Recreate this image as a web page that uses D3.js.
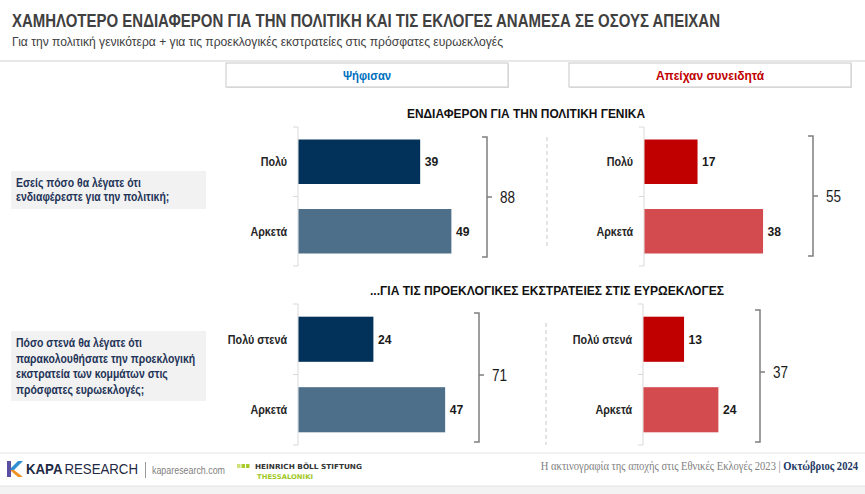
<!DOCTYPE html>
<html><head><meta charset="utf-8">
<script src="https://cdn.jsdelivr.net/npm/d3@7/dist/d3.min.js"></script>
<style>body{margin:0;background:#fff;}svg{display:block;}</style>
</head><body>
<svg id="chart" width="865" height="494"></svg>
<script>
// ---------- DATA ----------
const titleText = "ΧΑΜΗΛΟΤΕΡΟ ΕΝΔΙΑΦΕΡΟΝ ΓΙΑ ΤΗΝ ΠΟΛΙΤΙΚΗ ΚΑΙ ΤΙΣ ΕΚΛΟΓΕΣ ΑΝΑΜΕΣΑ ΣΕ ΟΣΟΥΣ ΑΠΕΙΧΑΝ";
const subtitleText = "Για την πολιτική γενικότερα + για τις προεκλογικές εκστρατείες στις πρόσφατες ευρωεκλογές";
const groupLabels = ["Ψήφισαν", "Απείχαν συνειδητά"];
const sectionTitles = ["ΕΝΔΙΑΦΕΡΟΝ ΓΙΑ ΤΗΝ ΠΟΛΙΤΙΚΗ ΓΕΝΙΚΑ", "...ΓΙΑ ΤΙΣ ΠΡΟΕΚΛΟΓΙΚΕΣ ΕΚΣΤΡΑΤΕΙΕΣ ΣΤΙΣ ΕΥΡΩΕΚΛΟΓΕΣ"];
const question1 = ["Εσείς πόσο θα λέγατε ότι", "ενδιαφέρεστε για την πολιτική;"];
const question2 = ["Πόσο στενά θα λέγατε ότι", "παρακολουθήσατε την προεκλογική", "εκστρατεία των κομμάτων στις", "πρόσφατες ευρωεκλογές;"];
const categories1 = ["Πολύ", "Αρκετά"];
const voted1 = [39, 49];
const abstained1 = [17, 38];
const categories2 = ["Πολύ στενά", "Αρκετά"];
const voted2 = [24, 47];
const abstained2 = [13, 24];
const footerSource = "Η ακτινογραφία της αποχής στις Εθνικές Εκλογές 2023";
const footerDate = "Οκτώβριος 2024";

// ---------- STYLE ----------
const SANS = "'Liberation Sans',Arial,sans-serif";
const SERIF = "'Liberation Serif','DejaVu Serif',serif";
const votedColors = ["#023159", "#4d6f8a"];
const abstColors = ["#c00000", "#d34b4f"];

const svg = d3.select("#chart");

// condensed text helper (horizontal squeeze to mimic a narrow face)
function ntext(parent, x, y, sx) {
  return parent.append("text").attr("transform", `translate(${x},${y}) scale(${sx},1)`)
    .attr("font-family", SANS);
}

// title
svg.append("text").attr("x", 12).attr("y", 27)
  .attr("font-family", SANS).attr("font-weight", "bold").attr("font-size", 18)
  .attr("fill", "#404040").attr("textLength", 708).attr("lengthAdjust", "spacingAndGlyphs")
  .text(titleText);
svg.append("text").attr("x", 12).attr("y", 46)
  .attr("font-family", SANS).attr("font-size", 13)
  .attr("fill", "#404040").attr("textLength", 491).attr("lengthAdjust", "spacingAndGlyphs")
  .text(subtitleText);
svg.append("line").attr("x1", 0).attr("x2", 865).attr("y1", 61).attr("y2", 61)
  .attr("stroke", "#e8e8e8").attr("stroke-width", 2);

// header boxes
const headers = [{x: 226, w: 282, c: "#0070c0", sx: 0.87}, {x: 569, w: 282, c: "#c00000", sx: 0.92}];
headers.forEach((h, i) => {
  svg.append("rect").attr("x", h.x + 1).attr("y", 64).attr("width", h.w).attr("height", 24).attr("fill", "#e4e4e4");
  svg.append("rect").attr("x", h.x).attr("y", 63).attr("width", h.w).attr("height", 24)
    .attr("fill", "#fff").attr("stroke", "#c8c8c8").attr("stroke-width", 1);
  ntext(svg, h.x + h.w / 2, 80, h.sx).attr("text-anchor", "middle")
    .attr("font-weight", "bold").attr("font-size", 13)
    .attr("fill", h.c).text(groupLabels[i]);
});

// section titles
[{x: 526, y: 118, len: 238}, {x: 547, y: 295, len: 354}].forEach((s, i) => {
  svg.append("text").attr("x", s.x).attr("y", s.y).attr("text-anchor", "middle")
    .attr("font-family", SANS).attr("font-weight", "bold").attr("font-size", 13.5)
    .attr("fill", "#111").attr("textLength", s.len).attr("lengthAdjust", "spacingAndGlyphs")
    .text(sectionTitles[i]);
});

// question boxes
function questionBox(lines, y, h, baselines) {
  svg.append("rect").attr("x", 11).attr("y", y).attr("width", 195).attr("height", h).attr("fill", "#f2f2f2");
  lines.forEach((l, i) => {
    ntext(svg, 16, baselines[i], 0.87)
      .attr("font-weight", "bold").attr("font-size", 12)
      .attr("fill", "#1f3458").text(l);
  });
}
questionBox(question1, 171, 38, [186.5, 201]);
questionBox(question2, 331, 70, [347, 362.5, 378, 393.5]);

// bar scale
const x = d3.scaleLinear().domain([0, 100]).range([0, 312]);

function panel(cfg) {
  const g = svg.append("g");
  const y = d3.scaleBand().domain(cfg.cats).range([cfg.top, cfg.bottom])
    .paddingInner(0.36).paddingOuter(0.18);
  const axisY = [cfg.top, cfg.top + (cfg.bottom - cfg.top) / 2, cfg.bottom];
  g.append("line").attr("x1", cfg.ax).attr("x2", cfg.ax).attr("y1", cfg.top).attr("y2", cfg.bottom)
    .attr("stroke", "#d9d9d9").attr("stroke-width", 1);
  axisY.forEach(v => g.append("line").attr("x1", cfg.ax - 5).attr("x2", cfg.ax).attr("y1", v).attr("y2", v)
    .attr("stroke", "#d9d9d9").attr("stroke-width", 1));
  if (cfg.dash) {
    g.append("line").attr("x1", cfg.dash.x).attr("x2", cfg.dash.x).attr("y1", cfg.dash.y1).attr("y2", cfg.dash.y2)
      .attr("stroke", "#c8c8c8").attr("stroke-dasharray", "4,3").attr("stroke-width", 1);
  }
  const data = cfg.cats.map((c, i) => ({c, v: cfg.vals[i], col: cfg.colors[i]}));
  g.selectAll("rect.bar").data(data).join("rect").attr("class", "bar")
    .attr("x", cfg.ax + 0.5).attr("y", d => y(d.c))
    .attr("width", d => x(d.v)).attr("height", y.bandwidth())
    .attr("fill", d => d.col);
  data.forEach(d => {
    const cy = y(d.c) + y.bandwidth() / 2 + 4.5;
    ntext(g, cfg.ax + x(d.v) + 5, cy, 0.9)
      .attr("font-weight", "bold").attr("font-size", 13.5)
      .attr("fill", "#1a1a1a").text(d.v);
    ntext(g, cfg.ax - 11, cy, 0.86).attr("text-anchor", "end")
      .attr("font-weight", "bold").attr("font-size", 12.5)
      .attr("fill", "#262626").text(d.c);
  });
  // bracket with total
  const b = cfg.br;
  g.append("path").attr("d", `M${b.x - 5},${b.y1}H${b.x}V${b.y2}H${b.x - 5}M${b.x},${b.mid}H${b.x + 5}`)
    .attr("fill", "none").attr("stroke", "#7f7f7f").attr("stroke-width", 1.5);
  ntext(g, b.x + 13, b.mid + 5.5, 0.82)
    .attr("font-size", 16.5).attr("fill", "#1a1a1a")
    .text(d3.sum(cfg.vals));
}

panel({cats: categories1, vals: voted1, colors: votedColors, ax: 298, top: 127, bottom: 266,
  br: {x: 487, y1: 137, y2: 257, mid: 197}});
panel({cats: categories1, vals: abstained1, colors: abstColors, ax: 644, top: 127, bottom: 266,
  dash: {x: 547, y1: 137, y2: 246}, br: {x: 813, y1: 136, y2: 256, mid: 196}});
panel({cats: categories2, vals: voted2, colors: votedColors, ax: 298, top: 304, bottom: 445,
  br: {x: 479, y1: 313, y2: 442, mid: 375}});
panel({cats: categories2, vals: abstained2, colors: abstColors, ax: 643, top: 304, bottom: 445,
  dash: {x: 546, y1: 323, y2: 445}, br: {x: 760, y1: 310, y2: 442, mid: 372}});

// footer
svg.append("line").attr("x1", 0).attr("x2", 865).attr("y1", 453).attr("y2", 453)
  .attr("stroke", "#ececec").attr("stroke-width", 1.5);
svg.append("rect").attr("x", 0).attr("y", 486).attr("width", 865).attr("height", 8).attr("fill", "#f3f3f3");
svg.append("line").attr("x1", 0).attr("x2", 865).attr("y1", 486).attr("y2", 486)
  .attr("stroke", "#e2e2e2").attr("stroke-width", 1);

// Kapa logo
const lg = svg.append("g");
lg.append("polygon").attr("points", "7,461 11,461 11,477 7,477").attr("fill", "#5a4fa2");
lg.append("polygon").attr("points", "11,468 18,461 23,461 14,470 11,470").attr("fill", "#2f8fd0");
lg.append("polygon").attr("points", "11,470 14,470 23,477 18,477 11,471").attr("fill", "#f29222");
lg.append("text").attr("x", 26).attr("y", 474).attr("font-family", SANS)
  .attr("font-size", 14).attr("fill", "#1f2a44")
  .attr("textLength", 112).attr("lengthAdjust", "spacingAndGlyphs")
  .call(t => {
    t.append("tspan").attr("font-weight", "bold").text("KAPA");
    t.append("tspan").attr("dx", 2).text("RESEARCH");
  });
lg.append("line").attr("x1", 145.5).attr("x2", 145.5).attr("y1", 462).attr("y2", 478)
  .attr("stroke", "#9a9a9a").attr("stroke-width", 1);
lg.append("text").attr("x", 152).attr("y", 474).attr("font-family", SANS).attr("font-size", 11.5)
  .attr("fill", "#7f7f7f").attr("textLength", 73).attr("lengthAdjust", "spacingAndGlyphs").text("kaparesearch.com");
[237, 241.5, 246].forEach((v, i) => lg.append("rect").attr("x", v).attr("y", 464).attr("width", 3.5).attr("height", 4)
  .attr("fill", i === 0 ? "#cfe27a" : "#a8cc2c"));
lg.append("text").attr("x", 255).attr("y", 469).attr("font-family", "'DejaVu Sans',sans-serif")
  .attr("font-weight", "bold").attr("font-size", 7).attr("fill", "#333")
  .attr("textLength", 107).attr("lengthAdjust", "spacingAndGlyphs").text("HEINRICH BÖLL STIFTUNG");
lg.append("text").attr("x", 257).attr("y", 479).attr("font-family", "'DejaVu Sans',sans-serif")
  .attr("font-weight", "bold").attr("font-size", 6.5).attr("fill", "#a0c81e")
  .attr("textLength", 56).attr("lengthAdjust", "spacingAndGlyphs").text("THESSALONIKI");

svg.append("text").attr("transform", "translate(858,470) scale(0.92,1)").attr("text-anchor", "end")
  .attr("font-family", SERIF).attr("font-size", 11.5).attr("fill", "#7f7f7f")
  .call(t => {
    t.append("tspan").text(footerSource + " | ");
    t.append("tspan").attr("font-weight", "bold").attr("fill", "#1f3864").text(footerDate);
  });
</script>
</body></html>
